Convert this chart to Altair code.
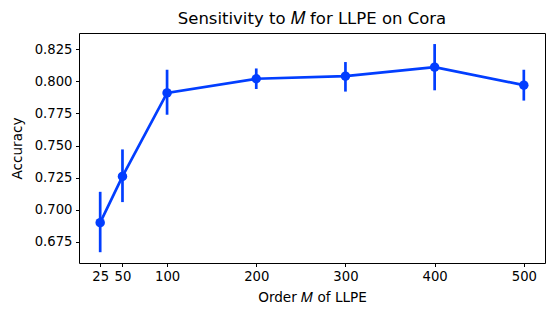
import altair as alt
import pandas as pd

orders = [25, 50, 100, 200, 300, 400, 500]
acc = [0.690, 0.726, 0.791, 0.802, 0.804, 0.811, 0.797]
acc_lo = [0.667, 0.706, 0.774, 0.794, 0.792, 0.793, 0.785]
acc_hi = [0.714, 0.747, 0.809, 0.810, 0.815, 0.829, 0.809]
x_ticks = [25, 50, 100, 200, 300, 400, 500]
y_ticks = [0.675, 0.700, 0.725, 0.750, 0.775, 0.800, 0.825]

df = pd.DataFrame({"M": orders, "acc": acc, "lo": acc_lo, "hi": acc_hi})

color = "#023eff"
font = "DejaVu Sans"

x_scale = alt.Scale(domain=[1.25, 523.75], nice=False, zero=False)
y_scale = alt.Scale(domain=[0.6586, 0.8376], nice=False, zero=False)
x_axis = alt.Axis(values=x_ticks, title="Order 𝑀 of LLPE", format="d", labelOverlap=False)
y_axis = alt.Axis(values=y_ticks, title="Accuracy", format=".3f", labelOverlap=False)

x = alt.X("M:Q", scale=x_scale, axis=x_axis)
y = alt.Y("acc:Q", scale=y_scale, axis=y_axis)

base = alt.Chart(df)
err = base.mark_rule(color=color, strokeWidth=2.7).encode(
    x=x, y=alt.Y("lo:Q", scale=y_scale, axis=y_axis), y2="hi:Q")
line = base.mark_line(color=color, strokeWidth=2.7).encode(x=x, y=y)
pts = base.mark_circle(color=color, size=90, opacity=1).encode(x=x, y=y)

chart = (err + line + pts).properties(
    width=466, height=230,
    title=alt.TitleParams("Sensitivity to 𝑀 for LLPE on Cora", font=font, fontSize=16.5,
                          fontWeight="normal", color="black", offset=6),
    autosize=alt.AutoSizeParams(type="none"),
    padding={"left": 71, "top": 25, "right": 1, "bottom": 46},
).configure_view(stroke="black", strokeWidth=1).configure_axis(
    labelFont=font, titleFont=font, labelFontSize=13.2, titleFontSize=13.6,
    titleFontWeight="normal", labelColor="black", titleColor="black",
    tickColor="black", tickSize=3.5, tickWidth=1, domain=False, grid=False, labelPadding=3.5,
    labelBound=False,
).configure_axisY(titlePadding=10).configure_axisX(titlePadding=8)

chart.save("out.html", embed_options={"renderer": "svg", "actions": False})
